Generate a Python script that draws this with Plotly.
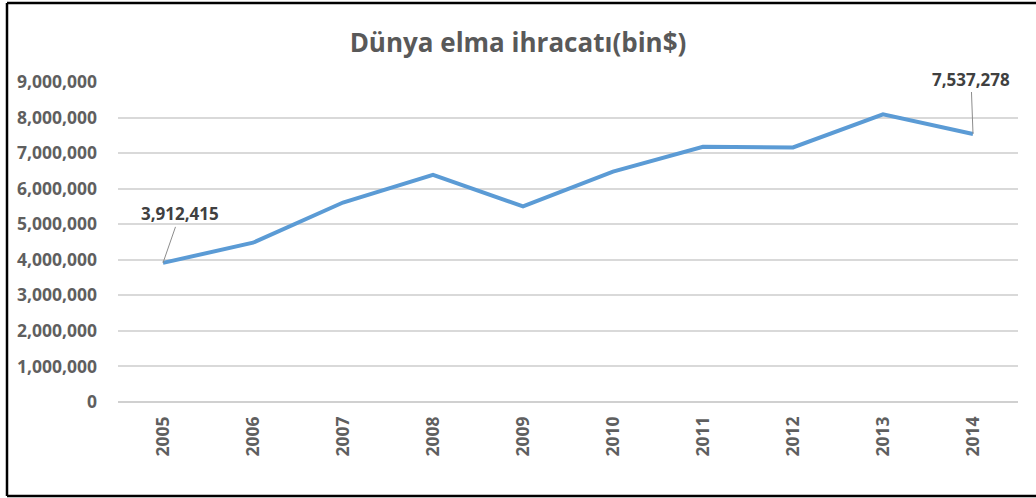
import plotly.graph_objects as go

years = ["2005", "2006", "2007", "2008", "2009", "2010", "2011", "2012", "2013", "2014"]
exports = [3912415, 4480000, 5610000, 6390000, 5500000, 6480000, 7180000, 7160000, 8090000, 7537278]
y_ticks = [0, 1000000, 2000000, 3000000, 4000000, 5000000, 6000000, 7000000, 8000000, 9000000]
y_tick_labels = ["0", "1,000,000", "2,000,000", "3,000,000", "4,000,000", "5,000,000",
                 "6,000,000", "7,000,000", "8,000,000", "9,000,000"]
title_text = "Dünya elma ihracatı(bin$)"

FONT = "Open Sans"
TICK_COLOR = "#5f5f5f"
W, H = 1036, 498
ML, MR, MT, MB = 118, 18, 82, 96
PW, PH = W - ML - MR, H - MT - MB

fig = go.Figure()
fig.add_trace(go.Scatter(
    x=years, y=exports, mode="lines",
    line=dict(color="#5B9BD5", width=4),
    hoverinfo="x+y",
))

# data labels for first and last point (category axis -> use category index)
for idx, ax, ay in [(0, 17, -49), (len(years) - 1, -2, -55)]:
    fig.add_annotation(
        xref="x", yref="y",
        x=idx, y=exports[idx],
        text=f"<b>{exports[idx]:,}</b>",
        showarrow=True, arrowhead=0, arrowwidth=1, arrowcolor="#8c8c8c",
        ax=ax, ay=ay, standoff=0,
        font=dict(family=FONT, size=17, color="#404040"),
    )

fig.update_layout(
    width=W, height=H,
    margin=dict(l=ML, r=MR, t=MT, b=MB),
    paper_bgcolor="white", plot_bgcolor="white",
    showlegend=False,
    title=dict(text=f"<b>{title_text}</b>", x=0.5, xanchor="center",
               y=1 - 43 / H, yanchor="middle",
               font=dict(family=FONT, size=26, color="#595959")),
    xaxis=dict(
        type="category", range=[-0.5, len(years) - 0.5],
        tickangle=-90, showgrid=False, zeroline=False,
        showline=False, ticks="",
        tickfont=dict(family=FONT, size=17.5, color=TICK_COLOR),
        ticklabelstandoff=10,
        tickprefix="<b>", ticksuffix="</b>",
    ),
    yaxis=dict(
        range=[0, 9000000], tickvals=y_ticks, ticktext=[f"<b>{t}</b>" for t in y_tick_labels],
        showgrid=True, gridcolor="#d9d9d9", gridwidth=1.5,
        zeroline=True, zerolinecolor="#d0d0d0", zerolinewidth=1.5,
        ticks="", ticklabelstandoff=20,
        tickfont=dict(family=FONT, size=17.5, color=TICK_COLOR),
    ),
)

# outer frame of the picture (left, top, bottom edges)
def px_x(p):
    return (p - ML) / PW

def px_y(p):
    return (H - MB - p) / PH

frame = dict(color="black", width=2.5)
fig.add_shape(type="line", xref="paper", yref="paper",
              x0=px_x(7), x1=px_x(7), y0=px_y(3), y1=px_y(496), line=frame)
fig.add_shape(type="line", xref="paper", yref="paper",
              x0=px_x(7), x1=px_x(1040), y0=px_y(3), y1=px_y(3), line=frame)
fig.add_shape(type="line", xref="paper", yref="paper",
              x0=px_x(7), x1=px_x(1040), y0=px_y(496), y1=px_y(496), line=frame)

fig.write_html("out.html", config={"displayModeBar": False},
               post_script="document.body.style.margin='0';")
